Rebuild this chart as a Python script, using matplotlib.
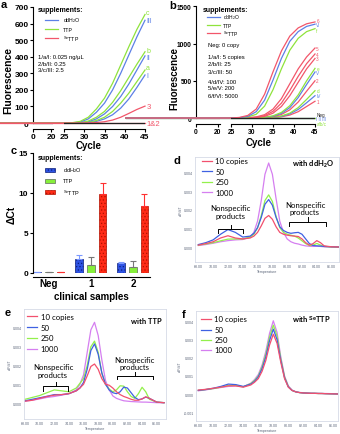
import matplotlib
matplotlib.use("Agg")
import matplotlib.pyplot as plt
from matplotlib.lines import Line2D
from matplotlib.patches import Rectangle

plt.rcParams['font.family'] = ['Liberation Sans', 'DejaVu Sans']
plt.rcParams['mathtext.fontset'] = 'custom'
plt.rcParams['mathtext.rm'] = 'Liberation Sans'
plt.rcParams['mathtext.it'] = 'Liberation Sans:italic'
plt.rcParams['mathtext.bf'] = 'Liberation Sans:bold'
plt.rcParams['hatch.linewidth'] = 0.5

# ---------------- data ----------------
# panel a: qPCR amplification, 0.025 / 0.25 / 2.5 ng/uL
cycles = [0, 22, 25, 27, 29, 31, 33, 35, 37, 39, 41, 43, 45]
a_c = [0, 0, 0, 2, 10, 35, 85, 150, 240, 350, 460, 565, 655]
a_III = [0, 0, 0, 1, 6, 25, 65, 120, 200, 300, 410, 520, 620]
a_b = [0, 0, 0, 0, 3, 12, 35, 70, 125, 195, 275, 355, 430]
a_II = [0, 0, 0, 0, 2, 8, 25, 55, 100, 160, 235, 320, 405]
a_a = [0, 0, 0, 0, 1, 5, 15, 35, 70, 120, 180, 250, 320]
a_I = [0, 0, 0, 0, 1, 3, 10, 25, 50, 90, 145, 215, 290]
a_3 = [0, 0, 0, 0, 0, 1, 3, 8, 18, 35, 58, 82, 102]
a_12 = [0] * 13

# panel b: copies per reaction
b_6 = [0, 0, 0, 8, 35, 120, 320, 620, 900, 1100, 1210, 1265, 1290]
b_VI = [0, 0, 0, 5, 22, 85, 240, 510, 800, 1030, 1160, 1230, 1260]
b_f = [0, 0, 0, 3, 14, 50, 160, 380, 660, 910, 1070, 1160, 1200]
b_5 = [0, 0, 0, 1, 5, 15, 45, 120, 260, 460, 660, 820, 940]
b_4 = [0, 0, 0, 0, 3, 10, 32, 90, 200, 370, 560, 730, 860]
b_3 = [0, 0, 0, 0, 2, 7, 22, 65, 155, 300, 480, 660, 800]
b_e = [0, 0, 0, 0, 1, 3, 10, 30, 75, 165, 310, 500, 667]
b_V = [0, 0, 0, 0, 1, 2, 8, 24, 62, 140, 275, 450, 618]
b_2 = [0, 0, 0, 0, 0, 2, 6, 18, 48, 110, 215, 360, 500]
b_d = [0, 0, 0, 0, 0, 1, 3, 10, 28, 65, 140, 250, 367]
b_IV = [0, 0, 0, 0, 0, 1, 2, 8, 22, 55, 115, 205, 300]
b_1 = [0, 0, 0, 0, 0, 0, 2, 6, 16, 40, 85, 155, 225]
b_zero = [0] * 13

# panel c: delta Ct
groups = ['Neg', '1', '2']
ddh2o_mean = [0.15, 1.75, 1.2]
ddh2o_err = [0.0, 0.5, 0.15]
ttp_mean = [0.15, 0.95, 0.8]
ttp_err = [0.0, 1.1, 0.65]
settp_mean = [0.15, 9.9, 8.4]
settp_err = [0.0, 1.4, 1.5]

# panels d-f: melt curves (-dF/dT, x1e-3)
temps = [68, 69, 70, 71, 72, 73, 74, 75, 75.5, 76, 76.5, 77, 77.5, 78, 78.5,
         79, 79.5, 80, 80.5, 81, 81.5, 82, 82.5, 83, 83.5, 84, 84.5, 85, 86, 87]
d_10 = [0.12, 0.2, 0.3, 0.5, 0.62, 0.5, 0.45, 0.5, 0.6, 0.8, 1.15, 1.55, 1.7, 1.5, 1.1,
        0.8, 0.7, 0.65, 0.62, 0.6, 0.58, 0.45, 0.25, 0.12, 0.2, 0.36, 0.25, 0.08, 0.03, 0.02]
d_50 = [0.15, 0.25, 0.4, 0.7, 0.95, 0.8, 0.55, 0.6, 0.75, 1.05, 1.6, 2.3, 2.55, 2.25, 1.6,
        1.1, 0.9, 0.8, 0.75, 0.78, 0.8, 0.7, 0.45, 0.2, 0.1, 0.08, 0.07, 0.05, 0.03, 0.02]
d_250 = [0.12, 0.18, 0.25, 0.35, 0.44, 0.45, 0.45, 0.55, 0.7, 1.05, 1.7, 2.5, 2.8, 2.45, 1.65,
         1.05, 0.8, 0.7, 0.65, 0.6, 0.5, 0.35, 0.2, 0.1, 0.12, 0.21, 0.12, 0.05, 0.02, 0.01]
d_1000 = [0.1, 0.15, 0.22, 0.3, 0.36, 0.4, 0.42, 0.55, 0.8, 1.4, 2.5, 3.9, 4.5, 3.9, 2.6,
          1.4, 0.8, 0.45, 0.3, 0.22, 0.18, 0.12, 0.08, 0.06, 0.05, 0.06, 0.05, 0.03, 0.02, 0.01]
e_10 = [0.1, 0.15, 0.25, 0.35, 0.42, 0.45, 0.5, 0.65, 0.8, 1.0, 1.45, 1.95, 2.08, 1.8, 1.3,
        1.0, 0.95, 0.8, 0.6, 0.45, 0.35, 0.28, 0.2, 0.15, 0.15, 0.22, 0.33, 0.25, 0.05, 0.02]
e_50 = [0.12, 0.2, 0.28, 0.36, 0.45, 0.45, 0.5, 0.65, 0.8, 1.1, 1.8, 2.8, 3.15, 2.6, 1.6,
        1.0, 0.7, 0.55, 0.5, 0.6, 0.85, 0.8, 0.55, 0.3, 0.18, 0.22, 0.32, 0.25, 0.05, 0.02]
e_250 = [0.2, 0.3, 0.4, 0.55, 0.7, 0.65, 0.6, 0.8, 1.05, 1.3, 2.0, 3.0, 3.3, 2.7, 1.6,
         1.0, 0.75, 0.6, 0.7, 0.92, 0.9, 0.6, 0.35, 0.25, 0.5, 0.84, 0.6, 0.2, 0.05, 0.02]
e_1000 = [0.1, 0.15, 0.22, 0.3, 0.35, 0.42, 0.5, 0.7, 1.0, 1.5, 2.7, 3.9, 4.3, 3.6, 2.3,
          1.2, 0.7, 0.38, 0.25, 0.18, 0.12, 0.1, 0.08, 0.07, 0.06, 0.05, 0.05, 0.04, 0.02, 0.01]
f_10 = [0.22, 0.26, 0.32, 0.38, 0.45, 0.45, 0.38, 0.5, 0.65, 0.85, 1.25, 1.85, 2.7, 3.3, 2.8,
        1.75, 0.85, 0.38, 0.2, 0.12, 0.08, 0.06, 0.05, 0.04, 0.04, 0.03, 0.03, 0.02, 0.01, 0.0]
f_50 = [0.2, 0.25, 0.32, 0.42, 0.55, 0.52, 0.42, 0.55, 0.7, 0.95, 1.4, 2.05, 2.95, 3.58, 3.0,
        1.85, 0.9, 0.4, 0.2, 0.12, 0.08, 0.06, 0.05, 0.04, 0.04, 0.03, 0.03, 0.02, 0.01, 0.0]
f_250 = [0.2, 0.25, 0.3, 0.38, 0.48, 0.48, 0.4, 0.58, 0.75, 1.0, 1.5, 2.2, 3.15, 3.8, 3.2,
         1.95, 0.95, 0.42, 0.2, 0.12, 0.08, 0.06, 0.05, 0.04, 0.04, 0.03, 0.03, 0.02, 0.01, 0.0]
f_1000 = [0.18, 0.23, 0.3, 0.36, 0.42, 0.45, 0.4, 0.6, 0.8, 1.08, 1.6, 2.35, 3.35, 4.04, 3.4,
          2.05, 1.0, 0.45, 0.22, 0.13, 0.09, 0.07, 0.06, 0.05, 0.04, 0.04, 0.03, 0.03, 0.02, 0.01]
copies = ['10 copies', '50', '250', '1000']

# ---------------- layout helpers ----------------
W, H = 340, 435
fig = plt.figure(figsize=(W / 100, H / 100), dpi=100)

def box(l, t, r, b):
    return [l / W, 1 - b / H, (r - l) / W, (b - t) / H]

def ftext(x, y, s, **kw):
    fig.text(x / W, 1 - y / H, s, **kw)

def fline(xs, ys, **kw):
    fig.add_artist(Line2D([x / W for x in xs], [1 - y / H for y in ys], **kw))

BLUE = '#5d80e6'
GREEN = '#8fe33c'
RED = '#f2566a'

def bold_ticks(ax, size):
    for lab in ax.get_xticklabels() + ax.get_yticklabels():
        lab.set_fontweight('bold')
        lab.set_fontsize(size)

def amp_panel(lbox, rbox, ylim, yticks, series, neg, left_color, tsize):
    axl = fig.add_axes(lbox)
    axr = fig.add_axes(rbox)
    for ax in (axl, axr):
        ax.set_facecolor('none')
        ax.spines['top'].set_visible(False)
        ax.spines['right'].set_visible(False)
        ax.spines['bottom'].set_position(('outward', 3))
        ax.set_ylim(*ylim)
        ax.tick_params(length=2, width=0.8, pad=1)
    axr.spines['left'].set_visible(False)
    axr.set_yticks([])
    axl.set_xlim(0, 22)
    axr.set_xlim(25, 45)
    axl.spines['bottom'].set_bounds(0, 22)
    axl.spines['left'].set_bounds(0, ylim[1])
    axl.set_xticks([0, 20])
    axl.set_yticks(yticks)
    axr.set_xticks([25, 30, 35, 40, 45])
    for vals, col, lab, dy, fs in series:
        axr.plot(cycles, vals, color=col, lw=0.9, clip_on=False)
        if lab:
            axr.text(45.3, vals[-1] + dy, lab, color=col, fontsize=fs,
                     va='center', ha='left', clip_on=False)
    axr.plot(cycles[2:], neg, color='#222222', lw=0.9)
    axl.plot(cycles[:2], [0, 0], color=left_color, lw=0.9)
    bold_ticks(axl, tsize)
    bold_ticks(axr, tsize)
    return axl, axr

# ---------------- panel a ----------------
series_a = [
    (a_I, BLUE, 'I', -5, 5), (a_a, GREEN, 'a', 15, 5),
    (a_II, BLUE, 'II', -10, 5), (a_b, GREEN, 'b', 5, 5),
    (a_III, BLUE, 'III', -4, 5), (a_c, GREEN, 'c', 12, 5),
    (a_3, RED, '3', 0, 5.5), (a_12, RED, '1&2', 0, 5.5),
]
amp_panel(box(33, 8, 53, 125.7), box(64, 8, 145, 125.7), (-10, 700),
          range(0, 701, 100), series_a, [0] * 11, '#222222', 6)
ftext(8, 81, 'Fluorescence', rotation=90, ha='center', va='center',
      fontsize=7.5, fontweight='bold')
ftext(89, 146, 'Cycle', ha='center', va='center', fontsize=7, fontweight='bold')
ftext(38, 11, 'supplements:', fontsize=5, fontweight='bold', va='center')
for y, col, lab in [(21, BLUE, r'ddH$_2$O'), (30, GREEN, 'TTP'), (39, RED, r'$^{\mathrm{Se}}$TTP')]:
    fline([45, 58], [y, y], color=col, lw=0.9)
    ftext(63, y, lab, fontsize=3.8, va='center')
for y, s in [(57, '1/a/I: 0.025 ng/\u03bcL'), (64, '2/b/II: 0.25'), (71, '3/c/III: 2.5')]:
    ftext(38, y, s, fontsize=4.2, va='center')

# ---------------- panel b ----------------
series_b = [
    (b_zero, BLUE, None, 0, 3.3), (b_zero, GREEN, None, 0, 3.3),
    (b_1, RED, '1', 0, 3.3), (b_IV, BLUE, 'IV', 0, 3.3), (b_d, GREEN, 'd', 0, 3.3),
    (b_2, RED, '2', 0, 3.3), (b_V, BLUE, 'V', 0, 3.3), (b_e, GREEN, 'e', 0, 3.3),
    (b_3, RED, '3', -7, 3.3), (b_4, RED, '4', -9, 3.3), (b_5, RED, '5', -13, 3.3),
    (b_f, GREEN, 'f', -25, 3.3), (b_VI, BLUE, 'VI', -5, 3.3), (b_6, RED, '6', 22, 3.3),
]
axbl, axbr = amp_panel(box(196, 7.3, 220, 120.9), box(231, 7.3, 315, 120.9), (-25, 1500),
                       [0, 500, 1000, 1500], series_b, [0] * 11, RED, 4.8)
axbr.text(45.3, 54, 'Neg', color='#222222', fontsize=3.3, va='center', clip_on=False)
axbr.text(45.3, -9, 'I II III', color=BLUE, fontsize=3.3, va='center', clip_on=False)
axbr.text(45.3, -71, 'a/b/c', color=GREEN, fontsize=3.3, va='center', clip_on=False)
ftext(174, 79, 'Fluorescence', rotation=90, ha='center', va='center',
      fontsize=7, fontweight='bold')
ftext(259, 143.5, 'Cycle', ha='center', va='center', fontsize=7, fontweight='bold')
ftext(203, 11, 'supplements:', fontsize=5, fontweight='bold', va='center')
for y, col, lab in [(18, BLUE, r'ddH$_2$O'), (26, GREEN, 'TTP'), (34, RED, r'$^{\mathrm{Se}}$TTP')]:
    fline([207, 220], [y, y], color=col, lw=0.9)
    ftext(223, y, lab, fontsize=3.6, va='center')
for y, s in [(46, 'Neg: 0 copy'), (57, '1/a/I: 5 copies'), (65, '2/b/II: 25'),
             (73, '3/c/III: 50'), (82, '4/d/IV: 100'), (89, '5/e/V: 200'), (97, '6/f/VI: 5000')]:
    ftext(208, y, s, fontsize=4.2, va='center')

# ---------------- panel c ----------------
axc = fig.add_axes(box(33, 154, 150, 274))
axc.set_facecolor('none')
axc.spines['top'].set_visible(False)
axc.spines['right'].set_visible(False)
axc.spines['bottom'].set_position(('outward', 3))
axc.set_xlim(-0.381, 2.405)
axc.set_ylim(0, 15)
xpos = range(len(groups))
off, bw = 0.274, 0.19
bar_sets = [
    (ddh2o_mean, ddh2o_err, -off, '#2d52e3', '#0d1f7a', '.....', '#7b98ff'),
    (ttp_mean, ttp_err, 0, '#86ef3a', '#606a5a', None, '#777777'),
    (settp_mean, settp_err, off, '#ff2b16', '#b01000', '.....', '#ff3030'),
]
for mean, err, dx, fc, ec, hatch, errc in bar_sets:
    xs = [x + dx for x in xpos]
    axc.bar(xs, mean, width=bw, color=fc, edgecolor=ec, hatch=hatch, lw=0.5, zorder=2)
    axc.errorbar(xs, mean, yerr=[[0] * len(err), err], fmt='none', ecolor=errc,
                 elinewidth=0.8, capsize=2, capthick=0.8, zorder=3)
axc.set_xticks(list(xpos))
axc.set_xticklabels(groups)
axc.set_yticks([0, 5, 10, 15])
axc.tick_params(axis='x', length=0, pad=0.5)
axc.tick_params(axis='y', length=2.5, width=0.8, pad=1)
bold_ticks(axc, 6)
for lab in axc.get_xticklabels():
    lab.set_fontsize(7)
ftext(12, 215, '\u0394Ct', rotation=90, ha='center', va='center', fontsize=7.5, fontweight='bold')
ftext(91, 297, 'clinical samples', ha='center', va='center', fontsize=7, fontweight='bold')
ftext(38, 159, 'supplements:', fontsize=5, fontweight='bold', va='center')
for y, fc, ec, hatch, lab in [(171, '#2d52e3', '#0d1f7a', '.....', r'ddH$_2$O'),
                              (182, '#86ef3a', '#606a5a', None, 'TTP'),
                              (193, '#ff2b16', '#b01000', '.....', r'$^{\mathrm{Se}}$TTP')]:
    fig.add_artist(Rectangle((45 / W, 1 - (y + 2.3) / H), 10 / W, 4.6 / H,
                             transform=fig.transFigure, facecolor=fc, edgecolor=ec,
                             hatch=hatch, lw=0.5))
    ftext(63, y, lab, fontsize=4, va='center')

# ---------------- panels d-f ----------------
MC = ['#f2506e', '#3f61e2', '#93f04c', '#d57ff0']

def melt_panel(rect, xlim, ylim, yticks, curves, title, leg_x, leg_ys, title_xy):
    ax = fig.add_axes(rect)
    for vals, col in reversed(list(zip(curves, MC))):
        ax.plot(temps, vals, color=col, lw=0.9)
    ax.set_xlim(*xlim)
    ax.set_ylim(*ylim)
    ax.set_xticks(range(68, 87, 2))
    ax.set_xticklabels(['%.2f' % t for t in range(68, 87, 2)])
    ax.set_yticks(yticks)
    ax.set_yticklabels(['%.3f' % (t / 1000) for t in yticks])
    ax.tick_params(length=0, labelsize=2.6, labelcolor='#5a6478', pad=1.5)
    for s in ax.spines.values():
        s.set_color('#d6dae6')
        s.set_linewidth(0.6)
    ax.set_xlabel('Temperature', fontsize=2.6, color='#5a6478', labelpad=1)
    ax.set_ylabel('-dF/dT', fontsize=2.6, color='#5a6478', labelpad=1)
    for y, col, lab in zip(leg_ys, MC, copies):
        fline([leg_x, leg_x + 10], [y, y], color=col, lw=0.9)
        ftext(leg_x + 13.5, y, lab, fontsize=5.6, va='center', family='Lato')
    ftext(title_xy[0], title_xy[1], title, fontsize=5.4, fontweight='bold',
          va='center', ha='center', family='Lato')
    return ax

def bracket(x0, x1, y, drop, rise):
    fline([x0, x0, x1, x1], [y + drop, y, y, y + drop], color='black', lw=0.7)
    xc = (x0 + x1) / 2
    fline([xc, xc], [y, y - rise], color='black', lw=0.7)

def nonspecific(x, y):
    ftext(x, y, 'Nonspecific\nproducts', fontsize=5.6, ha='center', va='center',
          family='Lato', linespacing=1.1)

melt_panel(box(195, 158, 339, 263), (67.55, 87.0), (-0.78, 4.82), [0, 1, 2, 3, 4],
           [d_10, d_50, d_250, d_1000], r'with ddH$_\mathbf{2}$O',
           201.7, [161.7, 172.3, 182.7, 193.3], (313, 164))
nonspecific(230, 212.5)
bracket(218.3, 243.3, 230, 4, 4)
nonspecific(305, 209)
bracket(289, 326, 222.7, 4.5, 4.4)

melt_panel(box(24, 310, 166, 420), (67.86, 87.27), (-0.85, 5.01), [0, 1, 2, 3, 4],
           [e_10, e_50, e_250, e_1000], 'with TTP',
           27.3, [317.3, 328.3, 339, 350], (146.7, 321.7))
nonspecific(53, 371.5)
bracket(42.7, 68.3, 387.3, 4.4, 4)
nonspecific(134, 364)
bracket(117.3, 153.3, 376.7, 3.3, 4)

melt_panel(box(196, 312, 338, 421.7), (67.69, 86.63), (-1.47, 4.58), [-1, 0, 1, 2, 3, 4],
           [f_10, f_50, f_250, f_1000], r'with $^{\mathbf{Se}}$TTP',
           200.7, [320, 330.7, 341, 351], (311.7, 320))

# panel letters
for x, y, s in [(4, 5, 'a'), (172.7, 6, 'b'), (13.3, 151, 'c'),
                (177.3, 161, 'd'), (7.3, 313, 'e'), (184, 315, 'f')]:
    ftext(x, y, s, fontsize=8, fontweight='bold', ha='center', va='center')

fig.savefig('out.png', dpi=100)
